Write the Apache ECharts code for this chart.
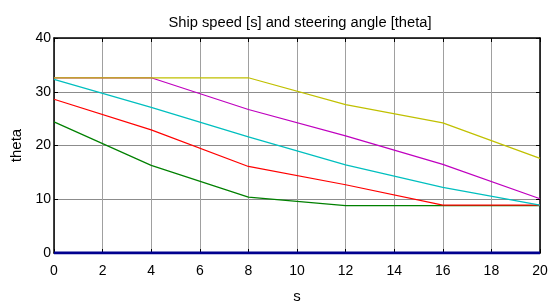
<!DOCTYPE html>
<html>
<head>
<meta charset="utf-8">
<script src="https://cdn.jsdelivr.net/npm/echarts@6/dist/echarts.min.js"></script>
<style>html,body{margin:0;padding:0;background:#fff;}#c{width:557px;height:304px;}</style>
</head>
<body>
<div id="c"></div>
<script>
const sValues = [0, 4, 8, 12, 16, 20];
const blueVals = [0, 0, 0, 0, 0, 0];
const greenVals = [24.4, 16.3, 10.4, 8.8, 8.8, 8.8];
const redVals = [28.6, 22.9, 16.1, 12.7, 8.9, 8.9];
const cyanVals = [32.3, 27.1, 21.6, 16.4, 12.2, 8.9];
const magentaVals = [32.6, 32.6, 26.7, 21.8, 16.5, 10.1];
const yellowVals = [32.6, 32.6, 32.6, 27.6, 24.2, 17.6];
const xTicks = [0, 2, 4, 6, 8, 10, 12, 14, 16, 18, 20];
const yTicks = [0, 10, 20, 30, 40];

const FONT = "'Liberation Sans', Arial, sans-serif";
const pairs = v => sValues.map((s, i) => [s, v[i]]);
const mk = (name, vals, color, width) => ({
  name, type: 'line', data: pairs(vals), showSymbol: false, symbol: 'none',
  lineStyle: { color, width }, itemStyle: { color }, animation: false, z: 3
});
const axisCommon = {
  axisLine: { show: true, onZero: false, lineStyle: { color: '#000', width: 1.5 } },
  axisTick: { show: true, inside: true, length: 4, lineStyle: { color: '#000' } }
};
const chart = echarts.init(document.getElementById('c'));
chart.setOption({
  animation: false,
  title: {
    text: 'Ship speed [s] and steering angle [theta]',
    left: 295, top: 10, textAlign: 'center',
    textStyle: { fontFamily: FONT, fontSize: 14.7, fontWeight: 'normal', color: '#000' }
  },
  grid: { left: 54, right: 17, top: 38, bottom: 51, outerBoundsMode: 'none', containLabel: false },
  xAxis: [
    Object.assign({
      type: 'value', min: xTicks[0], max: xTicks[xTicks.length - 1], interval: 2,
      name: 's', nameLocation: 'middle', nameGap: 36,
      nameTextStyle: { fontFamily: FONT, fontSize: 15, color: '#000' },
      axisLabel: { fontFamily: FONT, fontSize: 14, color: '#000', margin: 11 },
      splitLine: { show: true, lineStyle: { color: '#a0a0a0', width: 1 } }
    }, axisCommon),
    Object.assign({
      type: 'value', position: 'top', min: 0, max: 20, interval: 2,
      axisLabel: { show: false }, splitLine: { show: false }
    }, axisCommon)
  ],
  yAxis: [
    Object.assign({
      type: 'value', min: yTicks[0], max: yTicks[yTicks.length - 1], interval: 10,
      name: 'theta', nameLocation: 'middle', nameGap: 23,
      nameTextStyle: { fontFamily: FONT, fontSize: 15, fontWeight: 'normal', color: '#000' },
      axisLabel: { fontFamily: FONT, fontSize: 14, color: '#000', margin: 3 },
      splitLine: { show: true, lineStyle: { color: '#8c8c8c', width: 1 } }
    }, axisCommon),
    Object.assign({
      type: 'value', position: 'right', min: 0, max: 40, interval: 10,
      axisLabel: { show: false }, splitLine: { show: false }
    }, axisCommon)
  ],
  series: [
    Object.assign(mk('blue', blueVals, '#00008f', 3), { z: 4 }),
    mk('green', greenVals, '#008000', 1.2),
    mk('red', redVals, '#ff0000', 1.2),
    mk('cyan', cyanVals, '#00bfbf', 1.2),
    mk('magenta', magentaVals, '#bf00bf', 1.2),
    mk('yellow', yellowVals, '#c0c000', 1.2)
  ]
});
</script>
</body>
</html>
